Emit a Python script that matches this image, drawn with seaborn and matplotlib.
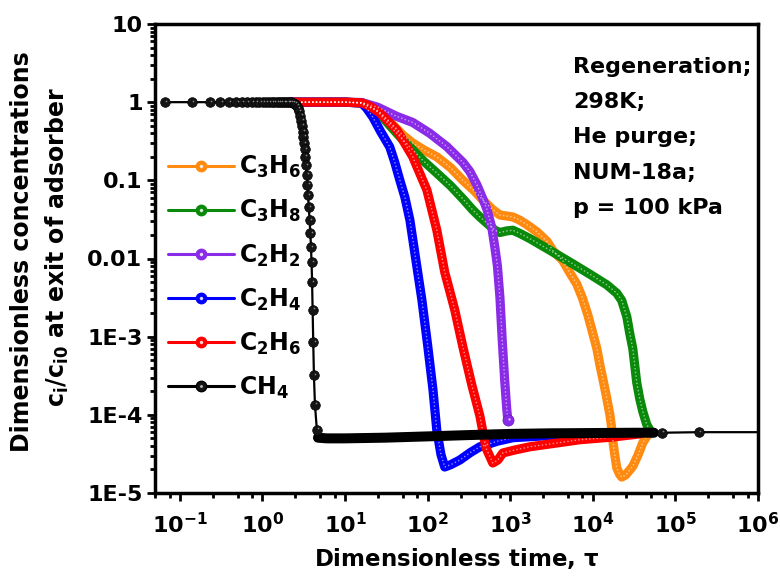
import matplotlib
matplotlib.use("Agg")
import matplotlib.pyplot as plt
import matplotlib.ticker as mticker
from matplotlib.lines import Line2D
from matplotlib.transforms import offset_copy
import pandas as pd
import seaborn as sns

# ---- breakthrough data (dimensionless time tau, c_i/c_i0) ----
tau_c3h6 = [2.2, 10, 16, 25, 35, 50, 66, 90, 129, 190, 267, 360, 466, 600, 750, 900,
            1075, 1300, 1600, 2100, 2800, 3300, 4300, 5300, 6400, 7500, 8700, 10000,
            11200, 12200, 13500, 14800, 16100, 17000, 17700, 18500, 19500, 21000,
            22400, 25000, 30500, 35000, 40300, 45000, 49000]
c_c3h6 = [1.0, 1.0, 0.98, 0.78, 0.56, 0.38, 0.30, 0.245, 0.20, 0.145, 0.10, 0.075,
          0.056, 0.043, 0.036, 0.035, 0.034, 0.031, 0.027, 0.022, 0.0165, 0.0125,
          0.0095, 0.0065, 0.0047, 0.0031, 0.0019, 0.0011, 7.0e-4, 4.3e-4, 2.6e-4,
          1.6e-4, 1.0e-4, 6.5e-5, 4.2e-5, 3.0e-5, 2.1e-5, 1.75e-5, 1.6e-5, 1.7e-5,
          2.2e-5, 3.0e-5, 4.4e-5, 5.3e-5, 5.9e-5]

tau_c3h8 = [2.2, 10, 16, 25, 35, 50, 66, 90, 129, 190, 267, 350, 429, 550, 650, 750,
            900, 1075, 1300, 1726, 3000, 5268, 9200, 14800, 19500, 22400, 25800,
            28000, 30500, 34000, 37000, 40300, 45000, 49000, 53000]
c_c3h8 = [1.0, 1.0, 0.98, 0.75, 0.50, 0.33, 0.245, 0.175, 0.124, 0.085, 0.058, 0.042,
          0.034, 0.027, 0.023, 0.0215, 0.0225, 0.023, 0.021, 0.018, 0.0128, 0.0090,
          0.0063, 0.0046, 0.0036, 0.0029, 1.8e-3, 1.1e-3, 7.0e-4, 2.6e-4, 1.6e-4,
          1.1e-4, 7.5e-5, 6.4e-5, 5.9e-5]

tau_c2h2 = [2.2, 10, 16, 25, 42, 66, 106, 171, 267, 324, 394, 466, 521, 598, 651,
            700, 750, 800, 860, 910, 935]
c_c2h2 = [1.0, 1.0, 0.99, 0.86, 0.66, 0.55, 0.40, 0.27, 0.17, 0.13, 0.088, 0.058,
          0.043, 0.025, 0.014, 0.0080, 0.0032, 9.0e-4, 2.6e-4, 1.15e-4, 8.6e-5]

tau_c2h4 = [2.2, 10, 16, 18.2, 21.7, 27, 34.8, 40, 46, 53, 61, 72, 85, 100, 116,
            129, 145, 161, 190, 245, 330, 429, 700, 1075, 2800, 12000]
c_c2h4 = [1.0, 1.0, 0.97, 0.84, 0.645, 0.42, 0.267, 0.17, 0.101, 0.061, 0.031,
          0.0096, 0.0030, 7.8e-4, 2.1e-4, 6.4e-5, 3.1e-5, 2.15e-5, 2.3e-5, 2.64e-5,
          3.3e-5, 3.9e-5, 4.6e-5, 5.1e-5, 5.4e-5, 5.7e-5]

tau_c2h6 = [2.2, 10, 16, 19.9, 26.4, 42.4, 66, 98, 129, 161, 213, 267, 343, 429,
            507, 615, 708, 813, 1138, 1726, 6960, 17500, 37100]
c_c2h6 = [1.0, 1.0, 0.98, 0.89, 0.73, 0.44, 0.20, 0.075, 0.0232, 0.0067, 2.2e-3,
          7.4e-4, 2.4e-4, 9.7e-5, 3.8e-5, 2.42e-5, 2.64e-5, 3.25e-5, 3.55e-5, 3.9e-5,
          4.8e-5, 5.2e-5, 5.7e-5]

# CH4: individually resolved points, the dense plateau and the late points
tau_ch4_early = [0.066, 0.14, 0.23, 0.31, 0.39, 0.48, 0.56, 0.65, 0.74, 0.83, 0.92,
                 1.01, 1.10, 1.20, 1.29, 1.38, 1.48, 1.58, 1.68, 1.78, 1.88, 1.99,
                 2.10, 2.22, 2.33, 2.45, 2.56, 2.66, 2.76, 2.86, 2.95, 3.02, 3.08,
                 3.13, 3.18, 3.23, 3.28, 3.35, 3.42, 3.49, 3.56, 3.64, 3.72, 3.80,
                 3.87, 3.93, 3.99, 4.05, 4.12, 4.20, 4.32, 4.56]
c_ch4_early = [1.0, 1.0, 1.0, 1.0, 1.0, 1.0, 1.0, 1.0, 1.0, 1.0, 1.0, 1.0, 1.0, 1.0,
               1.0, 1.0, 1.0, 1.0, 1.0, 1.0, 1.0, 1.0, 1.0, 1.0, 0.99, 0.96, 0.91,
               0.84, 0.76, 0.67, 0.58, 0.50, 0.42, 0.36, 0.30, 0.25, 0.20, 0.155,
               0.118, 0.088, 0.064, 0.045, 0.031, 0.021, 0.0140, 0.0090, 0.0050,
               0.0022, 8.5e-4, 3.2e-4, 1.35e-4, 6.4e-5]
tau_ch4_band = [4.7, 6, 10, 30, 100, 300, 1000, 3000, 10000, 30000, 55000]
c_ch4_band = [5.1e-5, 5.0e-5, 5.0e-5, 5.1e-5, 5.3e-5, 5.5e-5, 5.7e-5, 5.8e-5,
              5.85e-5, 5.9e-5, 5.9e-5]
tau_ch4_tail = [68400, 192000, 2000000]
c_ch4_tail = [5.9e-5, 6.0e-5, 6.0e-5]

series = [
    ("C3H6", r"$C_3H_6$", "#FF8A10", tau_c3h6, c_c3h6),
    ("C3H8", r"$C_3H_8$", "#0A8A0A", tau_c3h8, c_c3h8),
    ("C2H2", r"$C_2H_2$", "#8A2BE8", tau_c2h2, c_c2h2),
    ("C2H4", r"$C_2H_4$", "#0000FF", tau_c2h4, c_c2h4),
    ("C2H6", r"$C_2H_6$", "#FF0000", tau_c2h6, c_c2h6),
]
ch4_label = r"$CH_4$"

xtick_values = [1e-1, 1e0, 1e1, 1e2, 1e3, 1e4, 1e5, 1e6]
xtick_labels = [r"$10^{-1}$", r"$10^{0}$", r"$10^{1}$", r"$10^{2}$", r"$10^{3}$",
                r"$10^{4}$", r"$10^{5}$", r"$10^{6}$"]
ytick_values = [1e1, 1e0, 1e-1, 1e-2, 1e-3, 1e-4, 1e-5]
ytick_labels = ["10", "1", "0.1", "0.01", "1E-3", "1E-4", "1E-5"]

conditions = "Regeneration;\n298K;\nHe purge;\nNUM-18a;\np = 100 kPa"

# ---- styling ----
sns.set_theme(style="ticks")
plt.rcParams.update({
    "font.family": ["DejaVu Sans"],
    "font.weight": "bold",
    "mathtext.default": "bf",
    "axes.linewidth": 2.5,
    "axes.edgecolor": "black",
    "text.color": "black",
    "axes.labelcolor": "black",
    "xtick.color": "black",
    "ytick.color": "black",
    "xtick.labelcolor": "black",
    "ytick.labelcolor": "black",
})

fig = plt.figure(figsize=(7.8, 5.76), dpi=100)
ax = fig.add_axes([155 / 780, 1 - 493 / 576, (758 - 155) / 780, (493 - 24) / 576])
ax.set_xscale("log")
ax.set_yscale("log")

band_lw = 6.6
dot_style = (0, (0.01, 2.2))

for key, label, color, tau, conc in series:
    df = pd.DataFrame({"tau": tau, "c": conc})
    sns.lineplot(data=df, x="tau", y="c", ax=ax, color=color, lw=band_lw,
                 sort=False, estimator=None, legend=False,
                 solid_capstyle="round", solid_joinstyle="round", zorder=2)
    sns.lineplot(data=df, x="tau", y="c", ax=ax, color="white", lw=1.2,
                 alpha=0.55, sort=False, estimator=None, legend=False,
                 linestyle=dot_style, dash_capstyle="round", zorder=2.1)

# end point of the C2H2 curve
ax.scatter([tau_c2h2[-1]], [c_c2h2[-1]], s=64, color="#8A2BE8", zorder=2.2,
           edgecolor="#6A18C0", linewidth=0.5)
ax.scatter([tau_c2h2[-1]], [c_c2h2[-1]], s=2.5, color="white", alpha=0.8, zorder=2.3,
           linewidths=0,
           transform=offset_copy(ax.transData, fig=fig, x=0.7, y=0.9, units="points"))

# CH4 curve
ch4_all = pd.DataFrame({
    "tau": tau_ch4_early + tau_ch4_band + tau_ch4_tail,
    "c": c_ch4_early + c_ch4_band + c_ch4_tail,
})
sns.lineplot(data=ch4_all, x="tau", y="c", ax=ax, color="black", lw=1.6,
             sort=False, estimator=None, legend=False, zorder=3)
band = pd.DataFrame({"tau": tau_ch4_band, "c": c_ch4_band})
sns.lineplot(data=band, x="tau", y="c", ax=ax, color="black", lw=7.2,
             sort=False, estimator=None, legend=False, solid_capstyle="round", zorder=3)
pts = pd.DataFrame({"tau": tau_ch4_early + tau_ch4_tail, "c": c_ch4_early + c_ch4_tail})
sns.scatterplot(data=pts, x="tau", y="c", ax=ax, s=48, color="#151515",
                edgecolor="black", linewidth=0.5, zorder=3.1, legend=False)
ax.scatter(pts["tau"], pts["c"], s=1.4, color="white", alpha=0.5, zorder=3.2,
           linewidths=0,
           transform=offset_copy(ax.transData, fig=fig, x=1.0, y=1.1, units="points"))

# ---- axes ----
ax.set_xlim(0.05, 1e6)
ax.set_ylim(1e-5, 10)
ax.xaxis.set_major_locator(mticker.FixedLocator(xtick_values))
ax.xaxis.set_major_formatter(mticker.FixedFormatter(xtick_labels))
ax.xaxis.set_minor_locator(mticker.LogLocator(base=10, subs=(2.5, 5.0, 7.5), numticks=30))
ax.xaxis.set_minor_formatter(mticker.NullFormatter())
ax.yaxis.set_major_locator(mticker.FixedLocator(ytick_values))
ax.yaxis.set_major_formatter(mticker.FixedFormatter(ytick_labels))
ax.yaxis.set_minor_locator(mticker.LogLocator(base=10, subs=(2, 3, 4, 5, 6, 7, 8, 9), numticks=30))
ax.yaxis.set_minor_formatter(mticker.NullFormatter())
ax.tick_params(which="both", direction="out", top=False, right=False, width=2)
ax.tick_params(which="major", length=6, labelsize=16)
ax.tick_params(which="minor", length=3.5)
ax.tick_params(axis="x", which="major", pad=8)
ax.tick_params(axis="y", which="major", pad=3)
for lab in ax.get_xticklabels() + ax.get_yticklabels():
    lab.set_fontweight("bold")
for sp in ax.spines.values():
    sp.set_visible(True)
    sp.set_linewidth(2.5)

ax.set_xlabel(r"Dimensionless time, $\tau$", fontsize=16.5, fontweight="bold", labelpad=6)
ax.set_ylabel("")
fig.text(22 / 780, 1 - 252 / 576, "Dimensionless concentrations", rotation=90,
         ha="center", va="center", fontsize=17, fontweight="bold")
fig.text(57 / 780, 1 - 247 / 576, r"$c_i/c_{i0}$ at exit of adsorber", rotation=90,
         ha="center", va="center", fontsize=17, fontweight="bold")

ax.text(573 / 780, 1 - 57 / 576, conditions, transform=fig.transFigure,
        ha="left", va="top", fontsize=16, fontweight="bold", linespacing=1.95)

# ---- legend ----
handles = []
labels = []
for key, label, color, tau, conc in series:
    h1 = Line2D([], [], color=color, lw=2.2, marker="o", ms=7.5, mfc=color, mec=color)
    h2 = Line2D([], [], ls="none", marker="o", ms=1.5, mfc="white", mec="white", alpha=0.75)
    handles.append((h1, h2))
    labels.append(label)
h1 = Line2D([], [], color="black", lw=2.2, marker="o", ms=7.5, mfc="#151515", mec="black")
h2 = Line2D([], [], ls="none", marker="o", ms=1.3, mfc="white", mec="white", alpha=0.5)
handles.append((h1, h2))
labels.append(ch4_label)
leg = ax.legend(handles, labels, loc="center left",
                bbox_to_anchor=(168 / 780, 1 - 277.5 / 576),
                bbox_transform=fig.transFigure, frameon=False, fontsize=17,
                handlelength=2.8, handletextpad=0.2, labelspacing=0.76,
                borderpad=0, borderaxespad=0)

fig.savefig("out.png", dpi=100)
